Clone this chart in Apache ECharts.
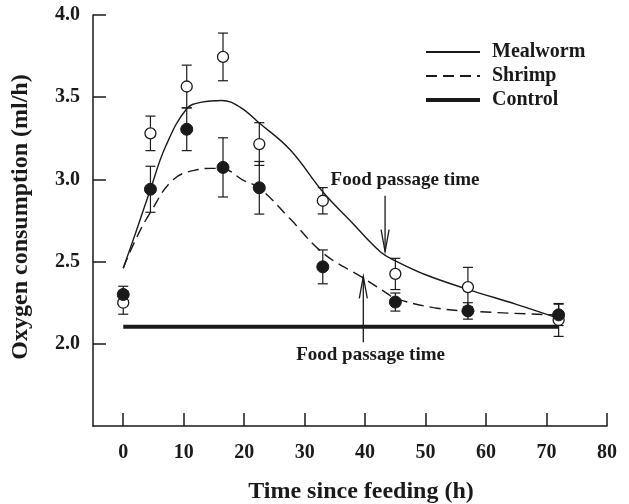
<!DOCTYPE html>
<html>
<head>
<meta charset="utf-8">
<script src="https://cdn.jsdelivr.net/npm/echarts@6/dist/echarts.min.js"></script>
<style>html,body{margin:0;padding:0;background:#fff}#c{width:629px;height:504px}</style>
</head>
<body>
<div id="c"></div>
<script>
// ---- data ----
const times = [0, 4.5, 10.5, 16.5, 22.5, 33, 45, 57, 72];
const mealwormMean = [2.25, 3.28, 3.565, 3.745, 3.215, 2.87, 2.425, 2.345, 2.145];
const mealwormErr = [0.07, 0.105, 0.13, 0.145, 0.13, 0.08, 0.095, 0.12, 0.10];
const shrimpMean = [2.30, 2.94, 3.305, 3.073, 2.949, 2.468, 2.254, 2.20, 2.176];
const shrimpErr = [0.05, 0.14, 0.13, 0.18, 0.16, 0.103, 0.055, 0.05, 0.065];

const mealwormCurveX = [0, 2, 4.5, 7, 10.5, 13, 16.3, 19.3, 22.6, 27.6, 33.1, 37.5, 42.5, 45, 50, 57.1, 65, 72];
const mealwormCurveY = [2.46, 2.67, 2.94, 3.20, 3.43, 3.47, 3.48, 3.44, 3.34, 3.18, 2.92, 2.75, 2.56, 2.505, 2.42, 2.33, 2.24, 2.155];
const shrimpCurveX = [0, 2, 4.5, 8.3, 12.4, 14.6, 16.5, 19.8, 22.6, 27.6, 33.1, 39.7, 43.6, 45, 51.3, 57.1, 72];
const shrimpCurveY = [2.46, 2.63, 2.80, 3.00, 3.06, 3.067, 3.065, 2.996, 2.945, 2.76, 2.55, 2.40, 2.307, 2.276, 2.22, 2.199, 2.175];
const controlX = [0, 72];
const controlY = [2.103, 2.103];

const xTicks = [0, 10, 20, 30, 40, 50, 60, 70, 80];
const yTicks = [2.0, 2.5, 3.0, 3.5, 4.0];

const arrowX = [43.3, 39.7];
const arrowFrom = [2.90, 2.01];
const arrowTo = [2.56, 2.41];
const labelX = [46.6, 40.9];
const labelY = [2.995, 1.93];
const labelText = ['Food passage time', 'Food passage time'];

// ---- chart ----
const FONT = '"Liberation Serif", "Times New Roman", serif';
const INK = '#1a1a1a';
const zip = (a, b) => a.map((v, i) => [v, b[i]]);

const errData = (means, errs) => times.map((t, i) => [t, means[i] - errs[i], means[i] + errs[i]]);

function errRender(params, api) {
  const x = api.value(0);
  const lo = api.coord([x, api.value(1)]);
  const hi = api.coord([x, api.value(2)]);
  const w = 5;
  const st = { stroke: INK, lineWidth: 1.2 };
  return {
    type: 'group',
    children: [
      { type: 'line', shape: { x1: lo[0], y1: lo[1], x2: hi[0], y2: hi[1] }, style: st },
      { type: 'line', shape: { x1: lo[0] - w, y1: lo[1], x2: lo[0] + w, y2: lo[1] }, style: st },
      { type: 'line', shape: { x1: hi[0] - w, y1: hi[1], x2: hi[0] + w, y2: hi[1] }, style: st }
    ]
  };
}

function arrowRender(params, api) {
  const x = api.value(0);
  const a = api.coord([x, api.value(1)]);
  const b = api.coord([x, api.value(2)]);
  const t = api.coord([api.value(3), api.value(4)]);
  const dir = b[1] > a[1] ? 1 : -1;
  const st = { stroke: INK, lineWidth: 1.3, fill: null };
  return {
    type: 'group',
    children: [
      { type: 'line', shape: { x1: a[0], y1: a[1], x2: b[0], y2: b[1] }, style: st },
      { type: 'polyline', shape: { points: [[b[0] - 4, b[1] - dir * 22], [b[0], b[1]], [b[0] + 4, b[1] - dir * 22]] }, style: st },
      { type: 'text', x: t[0], y: t[1], style: { text: labelText[params.dataIndex], font: 'bold 19px ' + FONT, fill: INK, align: 'center', verticalAlign: 'middle' } }
    ]
  };
}

const chart = echarts.init(document.getElementById('c'), null, { renderer: 'canvas' });
chart.setOption({
  animation: false,
  backgroundColor: '#fff',
  grid: { left: 93, right: 22, top: 15, bottom: 78, containLabel: false, outerBoundsMode: 'none' },
  legend: {
    data: ['Mealworm', 'Shrimp', { name: 'Control', lineStyle: { width: 4 } }],
    orient: 'vertical',
    left: 419,
    top: 37,
    itemWidth: 54,
    itemHeight: 14,
    itemGap: 4,
    itemStyle: { opacity: 0 },
    textStyle: { fontFamily: FONT, fontWeight: 'bold', fontSize: 20, color: INK, padding: [0, 0, 0, 7] },
    selectedMode: false
  },
  xAxis: {
    type: 'value', min: -5, max: 80,
    name: 'Time since feeding (h)', nameLocation: 'middle', nameGap: 54,
    nameTextStyle: { fontFamily: FONT, fontWeight: 'bold', fontSize: 24, color: INK, padding: [0, 0, 0, 22] },
    axisLine: { show: true, onZero: false, lineStyle: { color: INK, width: 1.5 } },
    axisTick: { show: true, inside: true, length: 13, customValues: xTicks, lineStyle: { color: INK, width: 1.5 } },
    axisLabel: { customValues: xTicks, margin: 17, fontFamily: FONT, fontWeight: 'bold', fontSize: 20, color: INK },
    splitLine: { show: false }
  },
  yAxis: {
    type: 'value', min: 1.5, max: 4.0,
    name: 'Oxygen consumption (ml/h)', nameLocation: 'middle', nameGap: 60,
    nameTextStyle: { fontFamily: FONT, fontWeight: 'bold', fontSize: 24, color: INK, padding: [0, 0, 0, 7] },
    axisLine: { show: true, onZero: false, lineStyle: { color: INK, width: 1.5 } },
    axisTick: { show: true, inside: true, length: 13, customValues: yTicks, lineStyle: { color: INK, width: 1.5 } },
    axisLabel: { customValues: yTicks, margin: 13, fontFamily: FONT, fontWeight: 'bold', fontSize: 20, color: INK, formatter: v => v.toFixed(1) },
    splitLine: { show: false }
  },
  series: [
    { name: 'Mealworm', type: 'line', data: zip(mealwormCurveX, mealwormCurveY), smooth: 0.4, symbol: 'none', lineStyle: { color: INK, width: 1.4, type: 'solid' }, itemStyle: { color: INK }, z: 2 },
    { name: 'Shrimp', type: 'line', data: zip(shrimpCurveX, shrimpCurveY), smooth: 0.4, symbol: 'none', lineStyle: { color: INK, width: 1.4, type: [11, 6] }, itemStyle: { color: INK }, z: 2 },
    { name: 'Control', type: 'line', data: zip(controlX, controlY), symbol: 'none', lineStyle: { color: INK, width: 4 }, itemStyle: { color: INK }, z: 2 },
    { name: 'errM', type: 'custom', data: errData(mealwormMean, mealwormErr), renderItem: errRender, z: 3, silent: true },
    { name: 'errS', type: 'custom', data: errData(shrimpMean, shrimpErr), renderItem: errRender, z: 3, silent: true },
    { name: 'Mealworm pts', type: 'scatter', data: zip(times, mealwormMean), symbol: 'circle', symbolSize: 11, itemStyle: { color: '#fff', borderColor: INK, borderWidth: 1.3, opacity: 1 }, z: 4 },
    { name: 'Shrimp pts', type: 'scatter', data: zip(times, shrimpMean), symbol: 'circle', symbolSize: 12, itemStyle: { color: INK, borderColor: INK, borderWidth: 1, opacity: 1 }, z: 5 },
    { name: 'arrows', type: 'custom', data: arrowX.map((x, i) => [x, arrowFrom[i], arrowTo[i], labelX[i], labelY[i]]), renderItem: arrowRender, z: 6, silent: true }
  ]
});
</script>
</body>
</html>
